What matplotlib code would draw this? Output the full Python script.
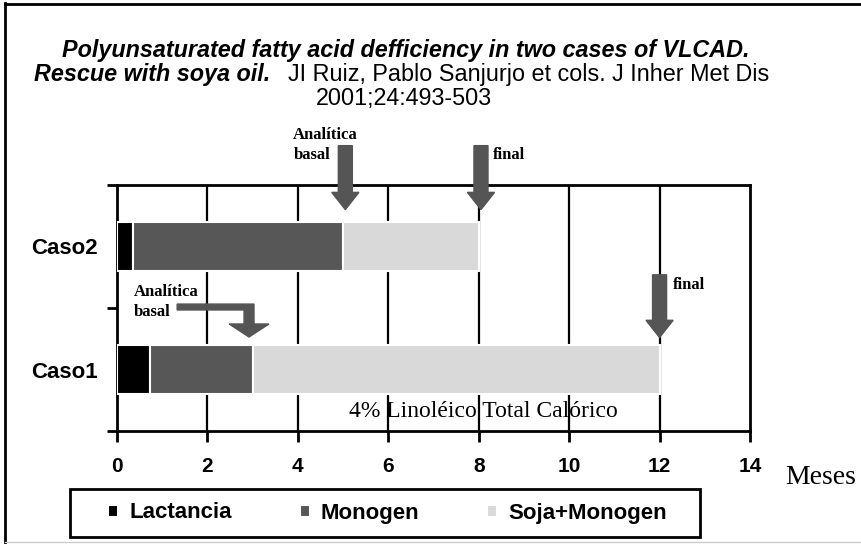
import matplotlib
matplotlib.use("Agg")
import matplotlib.pyplot as plt
from matplotlib.patches import FancyArrow, Polygon, Rectangle
from matplotlib.lines import Line2D

# data (months)
casos = ["Caso1", "Caso2"]
lactancia = [0.73, 0.36]
monogen = [2.27, 4.64]
soja = [9.0, 3.0]
series_names = ["Lactancia", "Monogen", "Soja+Monogen"]
colors = ["#000000", "#575757", "#d9d9d9"]
x_ticks = [0, 2, 4, 6, 8, 10, 12, 14]

# arrows: month, top, tip
arrow_x = [5.05, 8.05, 12.0]
arrow_top = [1.82, 1.82, 0.77]
arrow_tip = [1.30, 1.30, 0.26]
arrow_col = "#555555"

SANS = "Liberation Sans"
SERIF = "Liberation Serif"

fig = plt.figure(figsize=(8.62, 5.44), dpi=100)
ax = fig.add_axes([117/862, 1-431/544, 633/862, 246/544])

ypos = list(range(len(casos)))
left = [0] * len(casos)
for vals, name, c in zip([lactancia, monogen, soja], series_names, colors):
    ax.barh(ypos, vals, left=left, height=0.4, color=c, edgecolor="white",
            linewidth=1.5, label=name, zorder=3)
    left = [l + v for l, v in zip(left, vals)]

ax.set_xlim(0, 14)
ax.set_ylim(-0.5, 1.5)
ax.set_xticks(x_ticks)
ax.set_xticklabels([str(t) for t in x_ticks], fontfamily=SANS, fontweight="bold", fontsize=15)
ax.set_yticks([-0.5, 0.5, 1.5])
ax.set_yticklabels([])
ax.set_yticks(ypos, minor=True)
ax.set_yticklabels(casos, minor=True, fontfamily=SANS, fontweight="bold", fontsize=16)
ax.tick_params(axis="x", length=8, width=2, pad=11)
ax.tick_params(axis="y", which="major", length=7, width=2)
ax.tick_params(axis="y", which="minor", length=0, pad=14)
for x in x_ticks[1:-1]:
    ax.axvline(x, color="black", lw=1.6, zorder=1)
for s in ax.spines.values():
    s.set_linewidth(2)

# straight arrows
for x, top, tip in zip(arrow_x, arrow_top, arrow_tip):
    ax.add_patch(FancyArrow(x, top, 0, tip - top, width=0.31, head_width=0.6,
                            head_length=0.14, length_includes_head=True,
                            color=arrow_col, clip_on=False, zorder=4))

# bent arrow for Caso1 analitica basal
bent = [(1.33, 0.532), (3.03, 0.532), (3.03, 0.37), (3.36, 0.37), (2.92, 0.264),
        (2.48, 0.37), (2.81, 0.37), (2.81, 0.484), (1.33, 0.484)]
ax.add_patch(Polygon(bent, closed=True, color=arrow_col, zorder=4))

lab = dict(fontfamily=SERIF, fontweight="bold", fontsize=12, va="center", ha="left")
ax.text(3.9, 1.91, "Analítica", clip_on=False, **lab)
ax.text(3.9, 1.74, "basal", clip_on=False, **lab)
ax.text(8.32, 1.74, "final", clip_on=False, **lab)
ax.text(0.38, 0.63, "Analítica", **lab)
ax.text(0.38, 0.47, "basal", **lab)
ax.text(12.3, 0.69, "final", **lab)
ax.text(8.1, -0.34, "4% Linoléico Total Calórico", fontfamily=SERIF, fontsize=17,
        ha="center", va="center")

# title
fig.text(406/862, 1-51/544, "Polyunsaturated fatty acid defficiency in two cases of VLCAD.",
         fontfamily=SANS, fontweight="bold", style="italic", fontsize=16.8, ha="center", va="center")
fig.text(270/862, 1-74/544, "Rescue with soya oil.", fontfamily=SANS, fontweight="bold",
         style="italic", fontsize=16.8, ha="right", va="center")
fig.text(288/862, 1-74/544, "JI Ruiz, Pablo Sanjurjo et cols. J Inher Met Dis",
         fontfamily=SANS, fontsize=16.8, ha="left", va="center")
fig.text(404/862, 1-98/544, "2001;24:493-503", fontfamily=SANS, fontsize=16.8,
         ha="center", va="center")

fig.text(821/862, 1-477/544, "Meses", fontfamily=SERIF, fontsize=20, ha="center", va="center")

# legend
fig.add_artist(Rectangle((70/862, 1-537/544), 630/862, 48/544, transform=fig.transFigure,
                         fill=False, edgecolor="black", lw=2))
handles, labels = ax.get_legend_handles_labels()
fig.legend(handles, labels, loc="center", bbox_to_anchor=(108/862, 1-513/544, 559/862, 0),
           mode="expand", ncol=3, frameon=False, borderpad=0, borderaxespad=0,
           handlelength=0.45, handleheight=0.45, handletextpad=0.5,
           prop={"family": SANS, "weight": "bold", "size": 16})

# figure border
fig.add_artist(Line2D([5/862, 5/862], [0, 1-3/544], transform=fig.transFigure, color="black", lw=2))
fig.add_artist(Line2D([5/862, 1], [1-4/544, 1-4/544], transform=fig.transFigure, color="black", lw=2))
fig.add_artist(Line2D([5/862, 1], [2/544, 2/544], transform=fig.transFigure, color="#cccccc", lw=1))

fig.savefig("out.png", dpi=100)
